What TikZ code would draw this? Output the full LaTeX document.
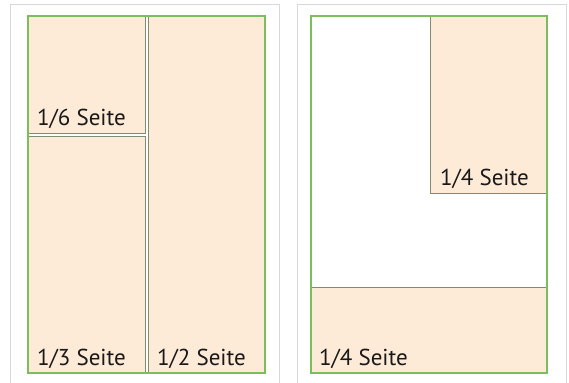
\documentclass[tikz,border=0pt]{standalone}
\usepackage{fontspec}
\setmainfont{PT Sans}
\definecolor{peach}{HTML}{FDEBD8}
\definecolor{framegreen}{HTML}{7DBE5C}
\definecolor{divgray}{HTML}{7E8C72}
\definecolor{pagegray}{HTML}{D8D8D8}
\tikzset{
  part/.style={draw=divgray, line width=0.9bp, fill=peach, anchor=north west, inner sep=0pt, outer sep=0pt},
  outer/.style={draw=framegreen, line width=1.4bp},
  pageframe/.style={draw=pagegray, line width=1bp},
  lbl/.style={anchor=base west, inner sep=0pt, font=\fontsize{23bp}{27bp}\selectfont, text=black!90}
}
\begin{document}
\begin{tikzpicture}[x=1bp,y=-1bp]
\useasboundingbox (0,0) rectangle (569,382);
% page frames
\draw[pageframe] (10,390) -- (10,4) -- (279,4) -- (279,390);
\draw[pageframe] (297,390) -- (297,4) -- (566,4) -- (566,390);
% left page
\node[part, minimum width=117bp, minimum height=117bp] (sixth) at (28,16) {};
\node[part, minimum width=117bp, minimum height=237bp] (third) at (28,136) {};
\node[part, minimum width=117bp, minimum height=357bp] (half) at (148,16) {};
\draw[outer] (28,16) rectangle (265,373);
\node[lbl] (l6) at ([xshift=9bp,yshift=8bp]sixth.south west) {1/6 Seite};
\node[lbl] (l3) at ([xshift=9bp,yshift=8bp]third.south west) {1/3 Seite};
\node[lbl] (l2) at ([xshift=9bp,yshift=8bp]half.south west) {1/2 Seite};
% right page
\node[part, minimum width=117bp, minimum height=177bp] (qtop) at (430,16) {};
\node[part, minimum width=236bp, minimum height=86bp] (qbot) at (311,287) {};
\draw[outer] (311,16) rectangle (547,373);
\node[lbl] (l4a) at ([xshift=10bp,yshift=8bp]qtop.south west) {1/4 Seite};
\node[lbl] (l4b) at ([xshift=8bp,yshift=8bp]qbot.south west) {1/4 Seite};
\end{tikzpicture}
\end{document}
